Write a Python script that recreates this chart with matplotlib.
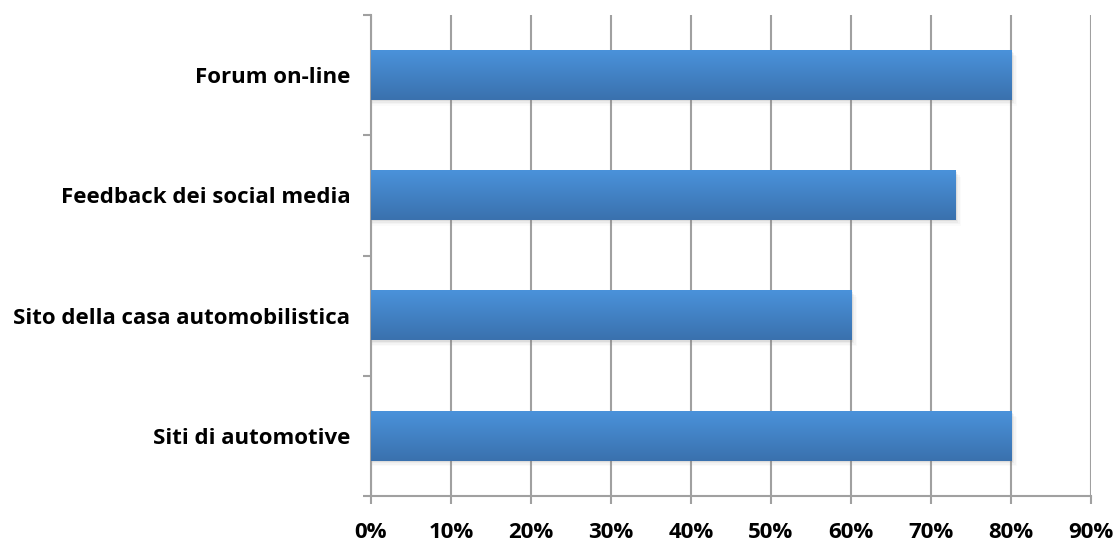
import matplotlib.pyplot as plt
import numpy as np
from matplotlib.colors import LinearSegmentedColormap
from matplotlib.ticker import FuncFormatter, MultipleLocator

categorie = ["Siti di automotive", "Sito della casa automobilistica",
             "Feedback dei social media", "Forum on-line"]
valori = [0.80, 0.60, 0.73, 0.80]

plt.rcParams['font.family'] = ['Open Sans', 'DejaVu Sans']

fig = plt.figure(figsize=(11.15, 5.44), dpi=100)
ax = fig.add_axes([0.3327, 0.0882, 0.6458, 0.8842])

pos = np.arange(len(categorie))
bars = ax.barh(pos, valori, height=0.41, color='#4283C9', zorder=3)

# ombra e gradiente delle barre
grad = LinearSegmentedColormap.from_list('g', ['#3A71AE', '#4A92DA'])
gvals = np.linspace(0, 1, 64).reshape(-1, 1)
for b in bars:
    x0, y0 = b.get_x(), b.get_y()
    w, h = b.get_width(), b.get_height()
    for k, a in enumerate([0.12, 0.08, 0.05, 0.03]):
        d = 0.012 * (k + 1)
        ax.add_patch(plt.Rectangle((x0, y0 - d), w + 0.002 * (k + 1), h,
                                   color='#808080', alpha=a, lw=0, zorder=2))
    ax.imshow(gvals, cmap=grad, aspect='auto', origin='lower',
              extent=(x0, x0 + w, y0, y0 + h), zorder=4)

ax.set_xlim(0, 0.9)
ax.set_ylim(-0.5, len(categorie) - 0.5)
ax.xaxis.set_major_locator(MultipleLocator(0.1))
ax.xaxis.set_major_formatter(FuncFormatter(lambda v, p: f"{v*100:.0f}%"))
ax.grid(axis='x', color='#A0A0A0', lw=1.5, zorder=1)

ax.set_yticks(pos)
ax.set_yticklabels(categorie, fontsize=16, fontweight='bold')
ax.set_yticks(np.arange(-0.5, len(categorie)), minor=True)
ax.tick_params(axis='y', which='major', length=0, pad=15)
ax.tick_params(axis='y', which='minor', length=6, width=1.5, color='#A0A0A0')
ax.tick_params(axis='x', length=6, width=1.5, color='#A0A0A0', pad=13,
               labelsize=16)
for t in ax.get_xticklabels():
    t.set_fontweight('bold')

for s in ['top', 'right']:
    ax.spines[s].set_visible(False)
for s in ['left', 'bottom']:
    ax.spines[s].set_color('#A0A0A0')
    ax.spines[s].set_linewidth(1.5)

fig.savefig('out.png', dpi=100)
